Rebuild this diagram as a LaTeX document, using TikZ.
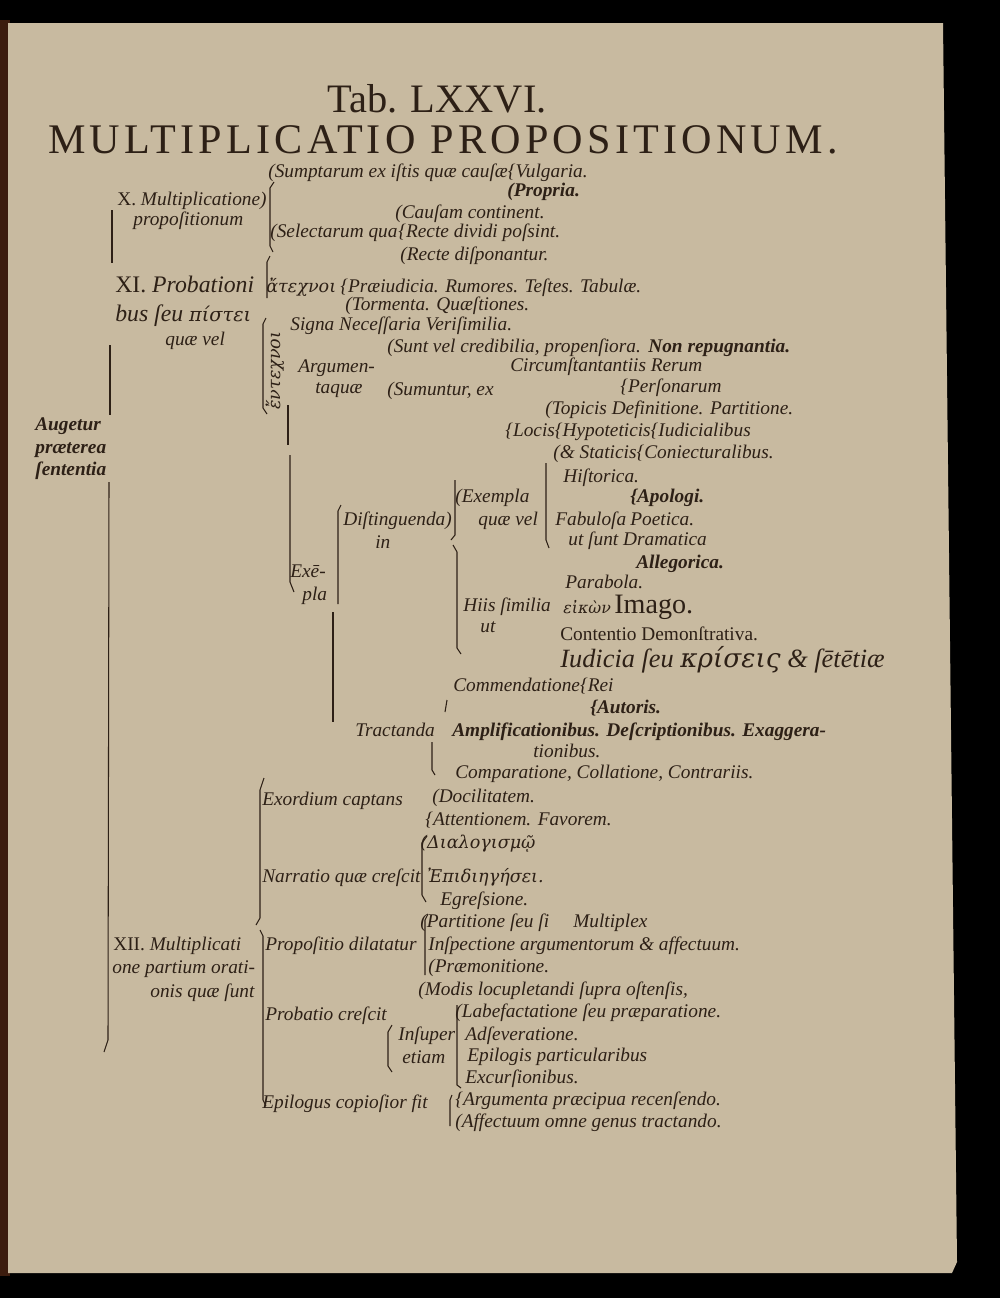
\documentclass[tikz,border=0pt]{standalone}
\usepackage{fontspec}
\setmainfont{Liberation Serif}
\newfontfamily\greekfont{DejaVu Serif}
\newfontfamily\spacedfont[LetterSpace=10]{Liberation Serif}
\definecolor{paper}{RGB}{200,186,160}
\definecolor{ink}{RGB}{45,32,22}
\definecolor{edge}{RGB}{60,28,14}
\tikzset{
  txt/.style={anchor=base west,inner sep=0pt,text=ink,font=\itshape\fontsize{11}{11}\selectfont},
  big/.style={txt,font=\itshape\fontsize{13.5}{13.5}\selectfont},
  bld/.style={txt,font=\bfseries\itshape\fontsize{11}{11}\selectfont},
  grk/.style={txt,font=\greekfont\itshape\fontsize{10}{10}\selectfont},
  brk/.style={draw=ink,line width=0.6pt}
}
\begin{document}
\begin{tikzpicture}[x=0.02cm,y=-0.02cm]
\useasboundingbox (0,0) rectangle (1000,1298);
\fill[black] (0,0) rectangle (1000,1298);
\fill[edge] (0,20) rectangle (10,1276);
\fill[paper] (8,23)--(943,23)--(957,1262)--(952,1273)--(8,1273)--cycle;

% title
\node[anchor=base,inner sep=0pt,text=ink,font=\fontsize{23}{23}\selectfont] (tab) at (437,112) {Tab. LXXVI.};
\node[anchor=base,inner sep=0pt,text=ink,font=\spacedfont\fontsize{24}{24}\selectfont] (head) at (443,153) {MULTIPLICATIO PROPOSITIONUM.};

% X
\node[txt] (sumpt) at (268,177) {(Sumptarum ex iſtis quæ cauſæ\{Vulgaria.};
\node[bld] (propria) at (507,196) {(Propria.};
\node[txt] (xmult) at (117,205) {\upshape X.\itshape\ Multiplicatione)};
\node[txt] (xprop) at (133,225) {propoſitionum};
\node[txt] (causam) at (395,218) {(Cauſam continent.};
\node[txt] (select) at (270,237) {(Selectarum qua};
\node[txt] (recte) at (398,237) {\{Recte dividi poſsint.};
\node[txt] (dispon) at (400,260) {(Recte diſponantur.};

% XI
\node[big] (xiprob) at (115,292) {\upshape XI.\itshape\ Probationi};
\node[grk] (atech) at (266,292) {ἄτεχνοι};
\node[txt] (praeiud) at (340,292) {\{Præiudicia. Rumores. Teſtes. Tabulæ.};
\node[txt] (torm) at (345,310) {(Tormenta. Quæſtiones.};
\node[big] (xibus) at (115,321) {bus ſeu {\greekfont\fontsize{11}{11}\selectfont πίστει}};
\node[txt] (xiquae) at (165,345) {quæ vel};
\node[grk,rotate=90] (entech) at (280,410) {ἔντεχνοι};
\node[txt] (signa) at (290,330) {Signa Neceſſaria Veriſimilia.};
\node[txt] (sunt) at (387,352) {(Sunt vel credibilia, propenſiora.};
\node[bld] (nonrep) at (648,352) {Non repugnantia.};
\node[txt] (argum) at (298,372) {Argumen-};
\node[txt] (argtaq) at (315,393) {taquæ};
\node[txt] (circum) at (510,371) {Circumſtantantiis Rerum};
\node[txt] (sumunt) at (387,395) {(Sumuntur, ex};
\node[txt] (person) at (620,392) {\{Perſonarum};
\node[txt] (topic) at (545,414) {(Topicis Definitione. Partitione.};
\node[txt] (locis) at (505,436) {\{Locis\{Hypoteticis\{Iudicialibus};
\node[txt] (static) at (553,458) {(\& Staticis\{Coniecturalibus.};
\node[bld] (aug1) at (35,430) {Augetur};
\node[bld] (aug2) at (35,453) {præterea};
\node[bld] (aug3) at (35,475) {ſententia};

% exempla
\node[txt] (histor) at (563,482) {Hiſtorica.};
\node[txt] (exempl) at (455,502) {(Exempla};
\node[bld] (apolog) at (630,502) {\{Apologi.};
\node[txt] (distin) at (343,525) {Diſtinguenda)};
\node[txt] (quavel) at (478,525) {quæ vel};
\node[txt] (fabul) at (555,525) {Fabuloſa};
\node[txt] (poet) at (630,525) {Poetica.};
\node[txt] (distin2) at (375,548) {in};
\node[txt] (utsunt) at (568,545) {ut ſunt Dramatica};
\node[bld] (allego) at (636,568) {Allegorica.};
\node[txt] (exe1) at (290,577) {Exē-};
\node[txt] (exe2) at (302,600) {pla};
\node[txt] (parab) at (565,588) {Parabola.};
\node[txt] (hiis) at (463,611) {Hiis ſimilia};
\node[grk,font=\greekfont\itshape\fontsize{9}{9}\selectfont] (eikon) at (563,613) {εἰκὼν};
\node[txt,font=\fontsize{16}{16}\selectfont] (imago) at (614,613) {Imago.};
\node[txt] (hiisut) at (480,632) {ut};
\node[txt,font=\fontsize{11}{11}\selectfont] (conten) at (560,640) {Contentio Demonſtrativa.};
\node[txt,font=\itshape\fontsize{15}{15}\selectfont] (iudic) at (560,667) {Iudicia ſeu {\greekfont κρίσεις} \& ſētētiæ};
\node[txt] (commend) at (453,691) {Commendatione\{Rei};
\node[bld] (autor) at (590,713) {\{Autoris.};
\node[txt] (tract) at (355,736) {Tractanda};
\node[bld] (amplif) at (452,736) {Amplificationibus. Deſcriptionibus. Exaggera-};
\node[txt] (amplif2) at (533,757) {tionibus.};
\node[txt] (compar) at (455,778) {Comparatione, Collatione, Contrariis.};

% XII
\node[txt] (exord) at (262,805) {Exordium captans};
\node[txt] (docil) at (432,802) {(Docilitatem.};
\node[txt] (attent) at (425,825) {\{Attentionem. Favorem.};
\node[grk] (dialog) at (420,848) {(Διαλογισμῷ};
\node[txt] (narrat) at (262,882) {Narratio quæ creſcit};
\node[grk] (epidieg) at (427,882) {Ἐπιδιηγήσει.};
\node[txt] (egress) at (440,905) {Egreſsione.};
\node[txt] (partit) at (420,927) {(Partitione ſeu ſi \quad Multiplex};
\node[txt] (xii1) at (113,950) {\upshape XII.\itshape\ Multiplicati};
\node[txt] (propos) at (265,950) {Propoſitio dilatatur};
\node[txt] (inspect) at (428,950) {Inſpectione argumentorum \& affectuum.};
\node[txt] (xii2) at (112,973) {one partium orati-};
\node[txt] (praemon) at (428,972) {(Præmonitione.};
\node[txt] (xii3) at (150,997) {onis quæ ſunt};
\node[txt] (modis) at (418,995) {(Modis locupletandi ſupra oſtenſis,};
\node[txt] (probat) at (265,1020) {Probatio creſcit};
\node[txt] (labef) at (455,1017) {(Labefactatione ſeu præparatione.};
\node[txt] (insup1) at (398,1040) {Inſuper};
\node[txt] (adsev) at (465,1040) {Adſeveratione.};
\node[txt] (insup2) at (402,1063) {etiam};
\node[txt] (epilpart) at (467,1061) {Epilogis particularibus};
\node[txt] (excurs) at (465,1083) {Excurſionibus.};
\node[txt] (epilog) at (262,1108) {Epilogus copioſior fit};
\node[txt] (argpr) at (455,1105) {\{Argumenta præcipua recenſendo.};
\node[txt] (affect) at (455,1127) {(Affectuum omne genus tractando.};

% brackets
\draw[brk] (112,210)--(112,263);
\draw[brk] (110,345)--(110,415);
\draw[brk] (109,482)--(108,1040)--(104,1052);
\draw[brk] (274,182)--(270,188)--(270,246)--(273,252);
\draw[brk] (270,256)--(267,262)--(267,298);
\draw[brk] (266,318)--(263,324)--(263,408)--(267,414);
\draw[brk] (288,405)--(288,445);
\draw[brk] (290,455)--(290,582)--(294,592);
\draw[brk] (341,505)--(338,511)--(338,604);
\draw[brk] (333,612)--(333,722);
\draw[brk] (455,480)--(455,535)--(451,540);
\draw[brk] (453,545)--(457,552)--(457,648)--(461,654);
\draw[brk] (546,463)--(546,540)--(549,548);
\draw[brk] (447,700)--(445,712);
\draw[brk] (432,742)--(432,770)--(435,775);
\draw[brk] (264,778)--(260,790)--(260,918)--(256,925);
\draw[brk] (260,930)--(263,936)--(263,1100)--(266,1106);
\draw[brk] (427,836)--(422,843)--(422,895)--(426,902);
\draw[brk] (428,914)--(425,920)--(425,975);
\draw[brk] (392,1025)--(388,1032)--(388,1066)--(392,1072);
\draw[brk] (457,1005)--(457,1085)--(461,1088);
\draw[brk] (452,1095)--(450,1100)--(450,1126);
\end{tikzpicture}
\end{document}
